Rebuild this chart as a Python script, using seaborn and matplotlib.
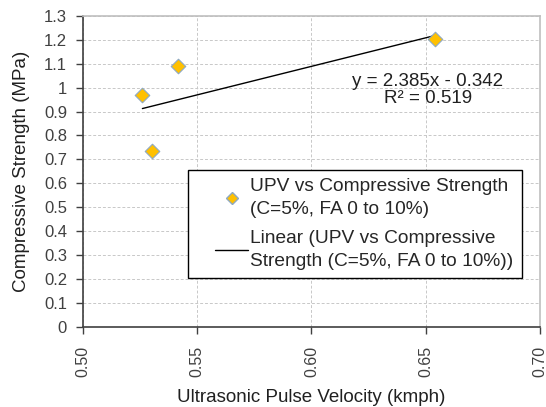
import numpy as np
import pandas as pd
import matplotlib
matplotlib.use("Agg")
import matplotlib.pyplot as plt
import seaborn as sns
from matplotlib.lines import Line2D
from matplotlib.legend_handler import HandlerLine2D

upv = [0.526, 0.530, 0.5415, 0.654]
strength = [0.97, 0.735, 1.09, 1.205]
slope = 2.385
intercept = -0.342
r2 = 0.519
x_ticks = [0.50, 0.55, 0.60, 0.65, 0.70]
y_ticks = [0, 0.1, 0.2, 0.3, 0.4, 0.5, 0.6, 0.7, 0.8, 0.9, 1, 1.1, 1.2, 1.3]

sns.set_theme(style="white")
plt.rcParams['font.family'] = ['Liberation Sans', 'DejaVu Sans']

df = pd.DataFrame({"UPV": upv, "Strength": strength})

fig = plt.figure(figsize=(5.46, 4.07), dpi=100)
ax = fig.add_axes([0.152, 0.197, 0.837, 0.764])

# trendline
xl = np.array([min(upv), max(upv)])
tl = pd.DataFrame({"x": xl, "y": slope * xl + intercept})
sns.lineplot(data=tl, x="x", y="y", ax=ax, color="black", linewidth=1.0, zorder=3)

sns.scatterplot(data=df, x="UPV", y="Strength", ax=ax, marker="D", s=55,
                color="#FFC000", edgecolor="#8EA9C1", linewidth=0.8, zorder=4)

ax.set_xlim(0.50, 0.70)
ax.set_ylim(0, 1.3)
ax.set_xticks(x_ticks)
ax.set_xticklabels([f"{v:.2f}" for v in x_ticks], rotation=90, fontsize=11.5, color="#404040")
ax.set_yticks(y_ticks)
ax.set_yticklabels([f"{v:g}" for v in y_ticks], fontsize=12, color="#404040")

ax.grid(True, color="#C8C8C8", linestyle=(0, (3, 2)), linewidth=0.7)
ax.set_axisbelow(True)
for s in ["top", "right"]:
    ax.spines[s].set_color("#BFBFBF")
    ax.spines[s].set_linewidth(1.2)
for s in ["left", "bottom"]:
    ax.spines[s].set_color("#404040")
    ax.spines[s].set_linewidth(1.2)
ax.tick_params(axis="both", which="major", direction="out", length=5, width=1,
               color="#404040", bottom=True, left=True)
ax.tick_params(axis="x", pad=8.5)
ax.tick_params(axis="y", pad=6.5)

ax.set_xlabel("Ultrasonic Pulse Velocity (kmph)", fontsize=13.5, color="#202020")
ax.xaxis.label.set_va("baseline")
ax.xaxis.set_label_coords(0.5, -75 / 311)
ax.set_ylabel("Compressive Strength (MPa)", fontsize=13.5, color="#202020", labelpad=10)

ax.text(0.651, 0.992, f"y = {slope}x - {abs(intercept)}\nR\u00b2 = {r2}",
        ha="center", va="center", fontsize=13.5, color="#202020", linespacing=1.0)

handles = [
    Line2D([], [], marker="D", linestyle="none", markersize=6,
           markerfacecolor="#FFC000", markeredgecolor="#8EA9C1"),
    Line2D([], [], color="black", linewidth=1.0),
]
labels = ["UPV vs Compressive Strength\n(C=5%, FA 0 to 10%)",
          "Linear (UPV vs Compressive\nStrength (C=5%, FA 0 to 10%))"]
hmap = {h: HandlerLine2D(xpad=1.0) for h in handles}
leg = ax.legend(handles, labels, loc="upper left", bbox_to_anchor=(0.23, 0.505),
                borderaxespad=0, fontsize=13.8, frameon=True, fancybox=False,
                edgecolor="black", framealpha=1, borderpad=0.42, handlelength=2.7,
                labelspacing=0.6, handletextpad=0.12, handler_map=hmap)
leg.get_frame().set_linewidth(1.0)
for t in leg.get_texts():
    t.set_linespacing(1.5)

fig.savefig("out.png", dpi=100)
